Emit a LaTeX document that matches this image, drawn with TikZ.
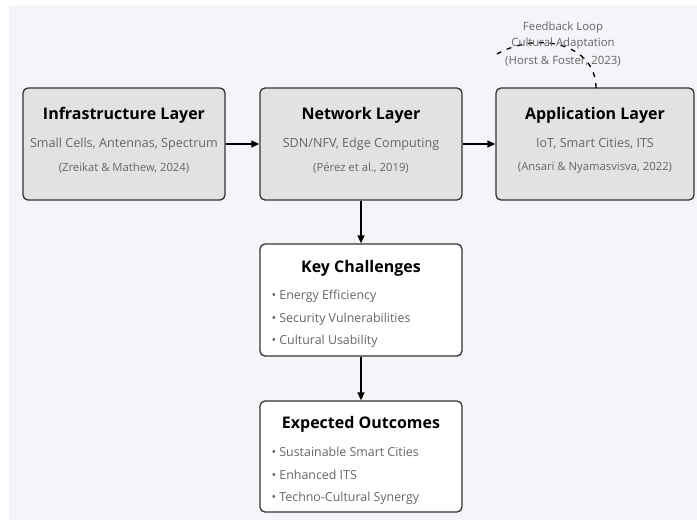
\documentclass[tikz,border=0pt]{standalone}
\usepackage{fontspec}
\setmainfont{Open Sans}
\usetikzlibrary{arrows.meta}
\definecolor{bgc}{HTML}{F4F4F9}
\definecolor{layerfill}{HTML}{E2E2E2}
\definecolor{edge}{HTML}{333333}
\definecolor{subtxt}{HTML}{666666}
\tikzset{
  layerbox/.style={draw=edge, line width=1.3pt, rounded corners=5pt, fill=layerfill, minimum width=202pt, minimum height=112pt},
  whitebox/.style={draw=edge, line width=1.3pt, rounded corners=5pt, fill=white, minimum width=202pt, minimum height=112pt},
  ttl/.style={font=\fontsize{16}{18}\selectfont\bfseries, text=black},
  sub/.style={font=\fontsize{12.6}{14}\selectfont, text=subtxt},
  cite/.style={font=\fontsize{11.3}{13}\selectfont, text=subtxt},
  bul/.style={font=\fontsize{12.4}{14}\selectfont, text=subtxt, anchor=west},
  flow/.style={draw=black, line width=1.3pt, -{Triangle[length=8pt,width=7pt]}},
  fb/.style={draw=black, line width=1.3pt, dash pattern=on 5pt off 6pt},
  fbl/.style={font=\fontsize{11.4}{13}\selectfont, text=subtxt}
}
\begin{document}
\begin{tikzpicture}[x=1pt,y=-1pt]
\useasboundingbox (0,0) rectangle (697,520);
\fill[white] (0,0) rectangle (697,520);
\fill[bgc] (9,5) rectangle (697,520);

% boxes
\node[layerbox] (infra) at (124,144) {};
\node[layerbox] (net) at (361,144) {};
\node[layerbox, minimum width=198pt] (app) at (595,144) {};
\node[whitebox] (key) at (361,300) {};
\node[whitebox, minimum height=111pt] (out) at (361,456.5) {};

% texts layers
\node[ttl] (infraT) at (124,115) {Infrastructure Layer};
\node[sub] (infraS) at (124,144) {Small Cells, Antennas, Spectrum};
\node[cite] (infraC) at (124,168) {(Zreikat \& Mathew, 2024)};

\node[ttl] (netT) at (361,115) {Network Layer};
\node[sub] (netS) at (361,144) {SDN/NFV, Edge Computing};
\node[cite] (netC) at (361,168) {(Pérez et al., 2019)};

\node[ttl] (appT) at (595,115) {Application Layer};
\node[sub] (appS) at (595,144) {IoT, Smart Cities, ITS};
\node[cite] (appC) at (595,168) {(Ansari \& Nyamasvisva, 2022)};

% key challenges
\node[ttl] (keyT) at (361,268) {Key Challenges};
\node[bul] (k1) at (268,296) {• Energy Efficiency};
\node[bul] (k2) at (268,319) {• Security Vulnerabilities};
\node[bul] (k3) at (268,341) {• Cultural Usability};

% expected outcomes
\node[ttl] (outT) at (361,424) {Expected Outcomes};
\node[bul] (o1) at (268,452) {• Sustainable Smart Cities};
\node[bul] (o2) at (268,475) {• Enhanced ITS};
\node[bul] (o3) at (268,498) {• Techno-Cultural Synergy};

% arrows
\draw[flow] (infra) -- (net);
\draw[flow] (net) -- (app);
\draw[flow] (net) -- (key);
\draw[flow] (key) -- (out);

% feedback loop
\coordinate (fbstart) at (596,88);
\coordinate (fbend) at (497,54);
\draw[fb] (fbstart) .. controls (596,45) and (540,30) .. (fbend);
\node[fbl] (fb1) at (563,28) {Feedback Loop};
\node[fbl] (fb2) at (563,44) {Cultural Adaptation};
\node[fbl] (fb3) at (563,61) {(Horst \& Foster, 2023)};
\end{tikzpicture}
\end{document}
